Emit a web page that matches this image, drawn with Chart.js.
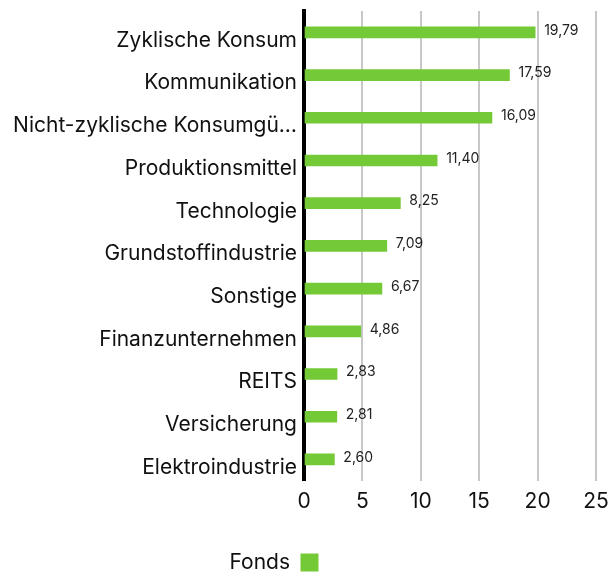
<!DOCTYPE html>
<html>
<head>
<meta charset="utf-8">
<script src="https://cdn.jsdelivr.net/npm/chart.js@4"></script>
<style>
  html, body { margin: 0; padding: 0; background: #fff; }
  #wrap { width: 608px; height: 576px; }
</style>
</head>
<body>
<div id="wrap"><canvas id="chart"></canvas></div>
<script>
const categories = [
  "Zyklische Konsum",
  "Kommunikation",
  "Nicht-zyklische Konsumgü…",
  "Produktionsmittel",
  "Technologie",
  "Grundstoffindustrie",
  "Sonstige",
  "Finanzunternehmen",
  "REITS",
  "Versicherung",
  "Elektroindustrie"
];
const fondsValues = [19.79, 17.59, 16.09, 11.40, 8.25, 7.09, 6.67, 4.86, 2.83, 2.81, 2.60];
const xTicks = [0, 5, 10, 15, 20, 25];

const FONT = "Inter, 'Noto Sans', sans-serif";
const GREEN = "#74c936";

// value labels right of each bar, German decimal comma
const valueLabels = {
  id: "valueLabels",
  afterDatasetsDraw(chart) {
    const ctx = chart.ctx;
    const meta = chart.getDatasetMeta(0);
    ctx.save();
    ctx.font = "14px " + FONT;
    ctx.fillStyle = "#222";
    ctx.textAlign = "left";
    ctx.textBaseline = "middle";
    meta.data.forEach((bar, i) => {
      const txt = fondsValues[i].toFixed(2).replace(".", ",");
      ctx.fillText(txt, bar.x + 9, bar.y - 2);
    });
    ctx.restore();
  }
};

// the legend sits a bit left of centre and lower in the original
const legendShift = {
  id: "legendShift",
  afterLayout(chart) {
    const lg = chart.legend;
    lg.left -= 30;
    lg.right -= 30;
    lg.top += 11;
    lg.bottom += 11;
  }
};

new Chart(document.getElementById("chart"), {
  type: "bar",
  data: {
    labels: categories,
    datasets: [{
      label: "Fonds",
      data: fondsValues,
      backgroundColor: GREEN,
      borderWidth: 0,
      barThickness: 11
    }]
  },
  options: {
    indexAxis: "y",
    responsive: true,
    maintainAspectRatio: false,
    animation: false,
    layout: { padding: { top: 11, right: 0, left: 0, bottom: 4 } },
    scales: {
      x: {
        min: 0,
        max: 25,
        afterBuildTicks(scale) { scale.ticks = xTicks.map(v => ({ value: v })); },
        afterFit(scale) {
          scale.paddingLeft = 0;
          scale.paddingRight = 12;
        },
        grid: { color: "#c8c8c8", lineWidth: 2, drawTicks: false },
        border: { display: false },
        ticks: {
          color: "#111",
          font: { family: FONT, size: 21 },
          padding: 8
        }
      },
      y: {
        afterFit(scale) {
          scale.width = 304;
          scale.paddingTop = 0;
          scale.paddingBottom = 0;
        },
        grid: { display: false, drawTicks: false },
        border: { display: true, color: "#000", width: 4 },
        ticks: {
          color: "#111",
          font: { family: FONT, size: 21 },
          padding: 7,
          labelOffset: 8
        }
      }
    },
    plugins: {
      legend: {
        position: "bottom",
        rtl: true,
        labels: {
          color: "#111",
          font: { family: FONT, size: 21 },
          boxWidth: 18,
          boxHeight: 18,
          padding: 19
        }
      },
      tooltip: { enabled: false }
    }
  },
  plugins: [valueLabels, legendShift]
});
</script>
</body>
</html>
